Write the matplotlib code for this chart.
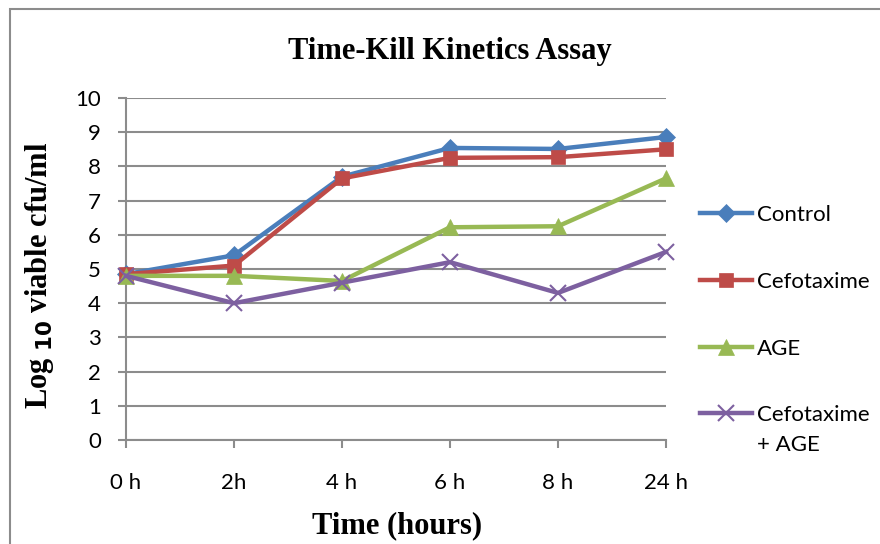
import matplotlib.pyplot as plt
from matplotlib.patches import Rectangle

# Data
times = ["0 h", "2h", "4 h", "6 h", "8 h", "24 h"]
control = [4.85, 5.4, 7.7, 8.54, 8.51, 8.86]
cefotaxime = [4.85, 5.1, 7.65, 8.25, 8.27, 8.5]
age = [4.8, 4.8, 4.65, 6.22, 6.25, 7.65]
cef_age = [4.8, 4.0, 4.6, 5.2, 4.3, 5.5]

series = [
    ("Control", control, "#4A7EBB", "D", 9),
    ("Cefotaxime", cefotaxime, "#BE4B48", "s", 10),
    ("AGE", age, "#98B954", "^", 11),
    ("Cefotaxime", cef_age, "#7D60A0", "x", 11),
]

tick_font = "Lato"
serif = "Liberation Serif"
W, H = 880, 544

fig = plt.figure(figsize=(8.8, 5.44), dpi=100)
ax = fig.add_axes([126/W, 1-440/H, 540/W, 342/H])

x = list(range(len(times)))
for label, vals, col, mk, ms in series:
    ax.plot(x, vals, color=col, lw=3.2, marker=mk, markersize=ms,
            markeredgewidth=1.5 if mk == "x" else 0.5, markeredgecolor=col,
            label=label, clip_on=False, zorder=3)

ax.set_xlim(0, 5)
ax.set_ylim(0, 10)
ax.set_yticks(range(0, 11))
ax.set_xticks(x)
ax.set_xticklabels(times)
ax.grid(axis="y", color="#8c8c8c", lw=1.5)
ax.set_axisbelow(True)
for s in ["top", "right"]:
    ax.spines[s].set_visible(False)
for s in ["left", "bottom"]:
    ax.spines[s].set_color("#8c8c8c")
    ax.spines[s].set_linewidth(1.5)
ax.tick_params(direction="out", length=6, width=1.5, color="#8c8c8c",
               labelsize=16)
ax.tick_params(axis="y", pad=12)
ax.tick_params(axis="x", pad=18)
for t in ax.get_xticklabels() + ax.get_yticklabels():
    t.set_fontfamily(tick_font)

fig.text(450/W, 1-52/H, "Time-Kill Kinetics Assay", family=serif,
         weight="bold", size=22, ha="center", va="center")
fig.text(39/W, 1-275/H, "Log $_{\\mathbf{10}}$ viable cfu/ml", family=serif,
         weight="bold", size=22, ha="center", va="center", rotation=90)
fig.text(397/W, 1-526/H, "Time (hours)", family=serif,
         weight="bold", size=22, ha="center", va="center")

leg = ax.legend(loc="upper left", bbox_to_anchor=(1.025, 0.745), frameon=False,
                prop={"family": tick_font, "size": 16}, labelspacing=2.1,
                handlelength=2.35, handletextpad=0.25)

# second line of the last legend entry, under its first line (as in Excel)
fig.canvas.draw()
bb = leg.get_texts()[-1].get_window_extent()
fig.text(bb.x0 / W, (bb.y0 - 30) / H, "+ AGE", family=tick_font, size=16,
         ha="left", va="bottom")

# outer chart border
fig.patches.append(Rectangle((10/W, -0.05), 1.2, 1-9/H+0.05,
                             transform=fig.transFigure, fill=False,
                             edgecolor="#8c8c8c", lw=1.5))

fig.savefig("out.png", dpi=100)
